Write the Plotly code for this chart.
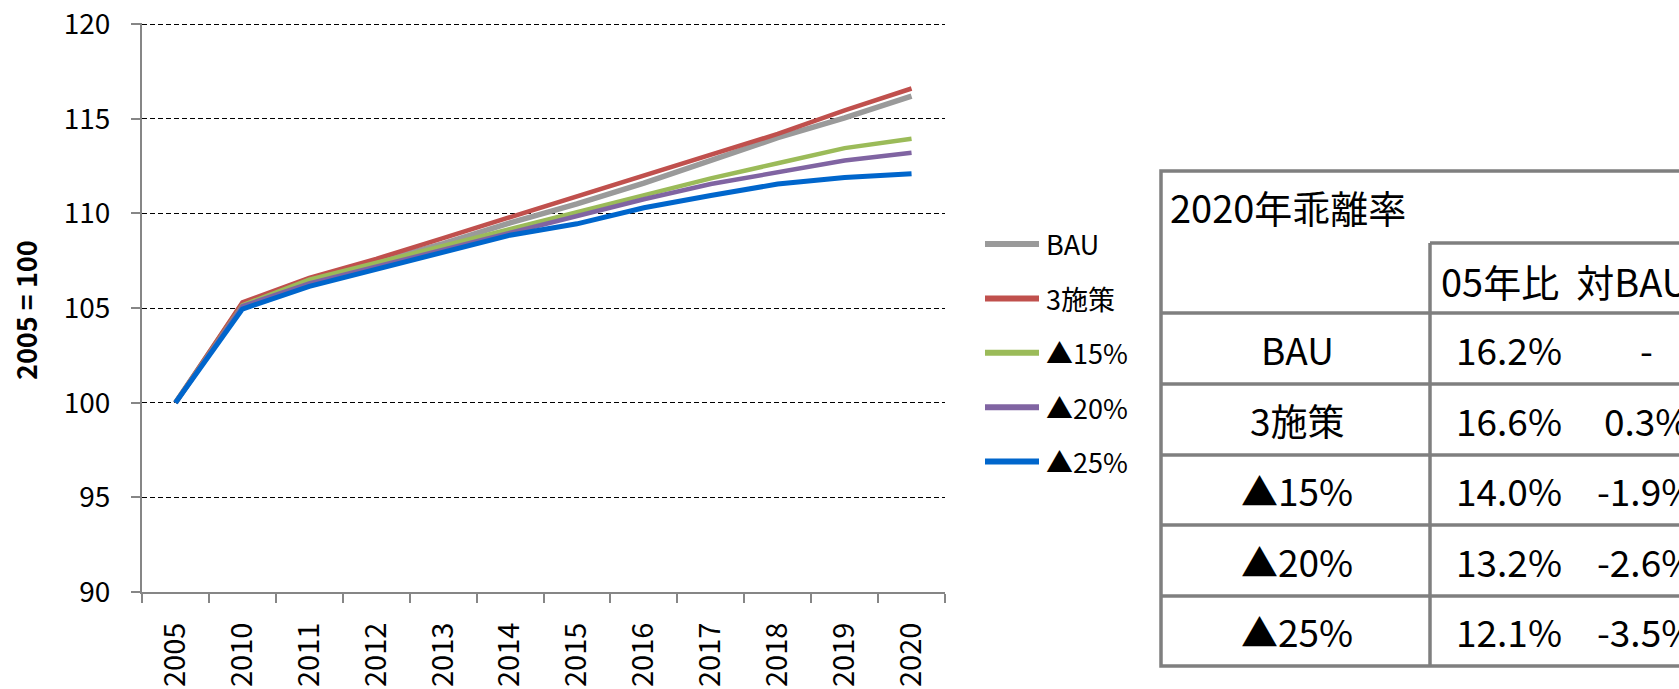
import plotly.graph_objects as go

# ---------------- data ----------------
years = ["2005", "2010", "2011", "2012", "2013", "2014", "2015", "2016", "2017", "2018", "2019", "2020"]
bau = [100, 105.2, 106.45, 107.4, 108.4, 109.5, 110.5, 111.6, 112.8, 114.0, 115.05, 116.2]
sesaku3 = [100, 105.3, 106.6, 107.6, 108.7, 109.8, 110.85, 112.0, 113.05, 114.2, 115.45, 116.6]
cut15 = [100, 105.15, 106.5, 107.4, 108.3, 109.2, 110.05, 111.0, 111.85, 112.65, 113.45, 113.95]
cut20 = [100, 105.1, 106.3, 107.2, 108.1, 109.0, 109.85, 110.75, 111.55, 112.2, 112.8, 113.2]
cut25 = [100, 104.95, 106.15, 107.05, 108.0, 108.85, 109.45, 110.3, 110.95, 111.55, 111.9, 112.1]

series_names = ["BAU", "3施策", "▲15%", "▲20%", "▲25%"]
series_values = [bau, sesaku3, cut15, cut20, cut25]
series_colors = ["#9A9A9A", "#C0504D", "#9BBB59", "#8064A2", "#0066CC"]
series_widths = [5.5, 4.5, 4.5, 4.5, 5]

y_ticks = [90, 95, 100, 105, 110, 115, 120]
y_title = "2005 = 100"

table_title = "2020年乖離率"
table_header = "05年比  対BAU"
table_rows = ["BAU", "3施策", "▲15%", "▲20%", "▲25%"]
table_vs05 = ["16.2%", "16.6%", "14.0%", "13.2%", "12.1%"]
table_vsbau = ["-", "0.3%", "-1.9%", "-2.6%", "-3.5%"]

# ---------------- layout geometry ----------------
W, H = 1679, 689
ML, MR, MT, MB = 142, 734, 23, 97
PW, PH = W - ML - MR, H - MT - MB

def px(x):
    return (x - ML) / PW

def py(y):
    return (H - MB - y) / PH

LATIN = "'Noto Sans CJK JP', Lato, sans-serif"

fig = go.Figure()
for name, vals, col, lw in zip(series_names, series_values, series_colors, series_widths):
    fig.add_trace(go.Scatter(x=years, y=vals, name=name, mode="lines",
                             line=dict(color=col, width=lw), showlegend=False))

shapes = []
annotations = []

# manual legend
for i, (name, col) in enumerate(zip(series_names, series_colors)):
    yc = 244 + 54.4 * i
    shapes.append(dict(type="line", xref="paper", yref="paper",
                       x0=px(985), x1=px(1039), y0=py(yc), y1=py(yc),
                       line=dict(color=col, width=6)))
    annotations.append(dict(xref="paper", yref="paper", x=px(1044), y=py(yc),
                            xanchor="left", yanchor="middle", showarrow=False,
                            text=name, font=dict(family=LATIN, size=27, color="black")))

# y axis title
annotations.append(dict(xref="paper", yref="paper", x=px(25), y=py(310),
                        xanchor="center", yanchor="middle", showarrow=False,
                        textangle=-90, text="<b>" + y_title + "</b>",
                        font=dict(family=LATIN, size=27, color="black")))

# table
tc = "#7F7F7F"
tw = 3.5
TL, TT, TR, TB = 1161, 171, 1800, 666
TV = 1430
row_lines = [313, 384, 455, 525, 596]
shapes.append(dict(type="rect", xref="paper", yref="paper",
                   x0=px(TL), x1=px(TR), y0=py(TT), y1=py(TB),
                   line=dict(color=tc, width=tw)))
shapes.append(dict(type="line", xref="paper", yref="paper",
                   x0=px(TV), x1=px(TR), y0=py(243), y1=py(243),
                   line=dict(color=tc, width=tw)))
shapes.append(dict(type="line", xref="paper", yref="paper",
                   x0=px(TV), x1=px(TV), y0=py(243), y1=py(TB),
                   line=dict(color=tc, width=tw)))
for yl in row_lines:
    shapes.append(dict(type="line", xref="paper", yref="paper",
                       x0=px(TL), x1=px(TR), y0=py(yl), y1=py(yl),
                       line=dict(color=tc, width=tw)))

tfont = dict(family=LATIN, size=37, color="black")
annotations.append(dict(xref="paper", yref="paper", x=px(1168), y=py(206),
                        xanchor="left", yanchor="middle", showarrow=False,
                        text=table_title, font=dict(family=LATIN, size=38, color="black")))
annotations.append(dict(xref="paper", yref="paper", x=px(1439), y=py(281),
                        xanchor="left", yanchor="middle", showarrow=False,
                        text=table_header, font=dict(family=LATIN, size=38, color="black")))
row_tops = [313, 384, 455, 525, 596]
row_bots = [384, 455, 525, 596, 666]
for lab, v1, v2, t0, t1 in zip(table_rows, table_vs05, table_vsbau, row_tops, row_bots):
    yc = (t0 + t1) / 2
    annotations.append(dict(xref="paper", yref="paper", x=px(1297), y=py(yc),
                            xanchor="center", yanchor="middle", showarrow=False,
                            text=lab, font=tfont))
    annotations.append(dict(xref="paper", yref="paper", x=px(1509), y=py(yc),
                            xanchor="center", yanchor="middle", showarrow=False,
                            text=v1, font=tfont))
    annotations.append(dict(xref="paper", yref="paper", x=px(1646), y=py(yc),
                            xanchor="center", yanchor="middle", showarrow=False,
                            text=v2, font=tfont))

fig.update_layout(
    width=W, height=H,
    margin=dict(l=ML, r=MR, t=MT, b=MB, autoexpand=False),
    paper_bgcolor="white", plot_bgcolor="white",
    showlegend=False,
    shapes=shapes, annotations=annotations,
    xaxis=dict(type="category", tickson="boundaries", ticks="outside", ticklen=9,
               tickcolor="#868686", tickwidth=2, showline=True, linecolor="#868686",
               linewidth=2, showgrid=False, tickangle=-90,
               tickfont=dict(family=LATIN, size=29, color="black"),
               ticklabelstandoff=17, range=[-0.5, len(years) - 0.5], fixedrange=True),
    yaxis=dict(range=[90, 120.06], tickvals=y_ticks, ticks="outside", ticklen=9,
               tickcolor="#868686", tickwidth=1.5, showline=True, linecolor="#868686",
               linewidth=2, showgrid=True, gridcolor="black", gridwidth=1.3,
               griddash="5px,3px", zeroline=False,
               tickfont=dict(family=LATIN, size=28, color="black"),
               ticklabelstandoff=15, fixedrange=True),
)

fig.write_html("out.html", config={"displayModeBar": False},
               post_script="document.body.style.margin='0px';document.body.style.overflow='hidden';")
